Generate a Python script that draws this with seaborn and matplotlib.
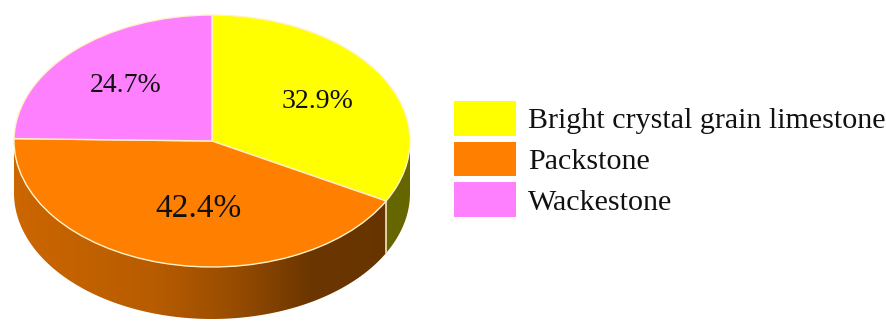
import numpy as np
import matplotlib
matplotlib.use("Agg")
import matplotlib.pyplot as plt
from matplotlib.patches import Patch, Polygon
import seaborn as sns

# Shares of each rock type (percent)
categories = ["Bright crystal grain limestone", "Packstone", "Wackestone"]
shares = [32.9, 42.4, 24.7]
slice_colors = ["#FFFF00", "#FF8000", "#FF80FF"]

sns.set_theme(style="white")
plt.rcParams["font.family"] = ["Liberation Serif", "DejaVu Serif"]

W, H = 887, 324
fig = plt.figure(figsize=(W / 100, H / 100), dpi=100)
ax = fig.add_axes([0, 0, 1, 1])

# Tilted-disc geometry (pixels): top face centre, radii, wall depth
cx, cy, rx, ry, depth = 212, 141, 198, 126, 52


def px2x(px):
    return (px - cx) / rx


def py2y(py):
    return (cy - py) / ry


thick = depth / ry
palette = sns.color_palette(slice_colors)

fracs = np.array(shares) / np.sum(shares)
ends = 90 - 360 * np.cumsum(fracs)
starts = np.r_[90, ends[:-1]]


def shade(x):
    # light falls from the left, the wall darkens towards the right
    return np.interp(x, [-1.0, -0.3, 0.1, 0.5, 1.0], [0.80, 0.72, 0.60, 0.42, 0.40])


# Side walls: only the front half (angles -180..0) is visible
for col, a0, a1 in zip(palette, starts, ends):
    lo_s, hi_s = min(a0, a1), max(a0, a1)
    for k in (-1, 0, 1):
        lo = max(lo_s, -180 + 360 * k)
        hi = min(hi_s, 0 + 360 * k)
        if hi <= lo:
            continue
        th = np.radians(np.linspace(lo, hi, 120))
        top = np.column_stack([np.cos(th), np.sin(th)])
        bot = np.column_stack([np.cos(th), np.sin(th) - thick])[::-1]
        poly = Polygon(np.vstack([top, bot]), closed=True,
                       facecolor="none", edgecolor="none", zorder=1)
        ax.add_patch(poly)
        xs = np.linspace(-1, 1, 400)
        img = np.array(col)[None, None, :] * shade(xs)[None, :, None]
        img = np.repeat(img, 2, axis=0)
        im = ax.imshow(img, extent=(-1, 1, -1 - thick - 0.05, 0.05),
                       aspect="auto", zorder=1, interpolation="bilinear")
        im.set_clip_path(poly)

# light seam on the wall where two slices meet
for a in ends[:-1]:
    t = np.radians(a)
    if np.sin(t) < 0:
        ax.plot([np.cos(t), np.cos(t)], [np.sin(t), np.sin(t) - thick],
                color="#f3e7bd", lw=1.2, zorder=2)

# Top face
wedges, texts, autotexts = ax.pie(
    shares, colors=palette, startangle=90, counterclock=False,
    autopct="%.1f%%", pctdistance=0.62,
    wedgeprops=dict(edgecolor="#fff2c8", linewidth=1.0),
    textprops=dict(fontsize=20, color="#111111"),
)
for w in wedges:
    w.set_zorder(3)
for t in autotexts:
    t.set_zorder(4)
autotexts[1].set_fontsize(24)
x, y = autotexts[1].get_position()
autotexts[1].set_position((x + 0.09, y + 0.06))

ax.set_xlim(px2x(0), px2x(W))
ax.set_ylim(py2y(H), py2y(0))
ax.set_aspect("auto")
ax.axis("off")

handles = [Patch(facecolor=c, edgecolor="none") for c in palette]
fig.legend(handles, categories, loc="upper left",
           bbox_to_anchor=(454 / W, 1 - 101 / H), frameon=False,
           fontsize=21.6, handlelength=2.07, handleheight=1.4,
           handletextpad=0.4, labelspacing=0.2, borderpad=0,
           borderaxespad=0, labelcolor="#111111")

fig.savefig("out.png", dpi=100)
